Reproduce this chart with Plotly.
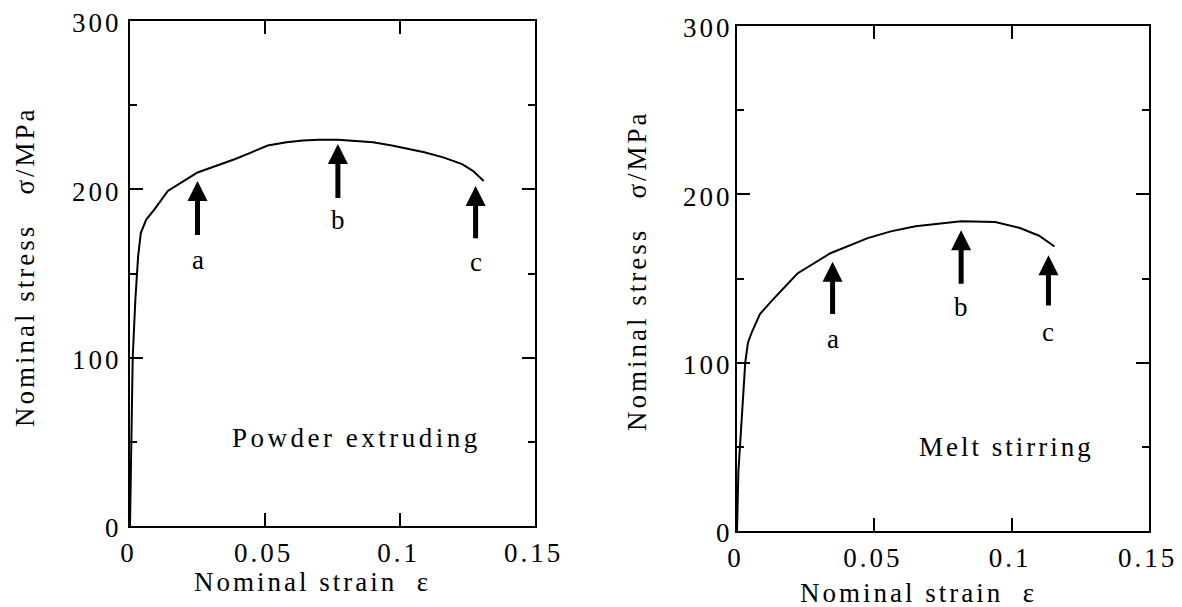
import plotly.graph_objects as go

# ---- data ----
powder_strain = [0, 0.001, 0.002, 0.003, 0.004, 0.006, 0.009, 0.014, 0.020, 0.025, 0.032, 0.039,
                 0.045, 0.051, 0.058, 0.064, 0.070, 0.077, 0.081, 0.090, 0.097, 0.103, 0.109,
                 0.116, 0.123, 0.127, 0.131]
powder_stress = [0, 100, 135, 160, 174, 182, 188, 199, 205, 210, 214, 218,
                 222, 226, 228, 229, 229.5, 229.5, 229, 228, 226, 224, 222,
                 219, 215, 211, 205]

melt_strain = [0, 0.0005, 0.003, 0.004, 0.0055, 0.0084, 0.0128, 0.022, 0.034, 0.0476, 0.056,
               0.065, 0.0816, 0.094, 0.103, 0.110, 0.1156]
melt_stress = [0, 35, 100, 112, 118.5, 129, 137, 153, 165, 174, 178,
               181, 184, 183.5, 180, 175.4, 169]

arrow_labels = ["a", "b", "c"]
powder_arrow_x = [0.025, 0.077, 0.128]
powder_arrow_tip = [205, 227, 202]
powder_arrow_tail = [172, 194, 170]
powder_label_y = [158, 182, 157]

melt_arrow_x = [0.0348, 0.0816, 0.1134]
melt_arrow_tip = [160, 178.6, 163.8]
melt_arrow_tail = [128, 146, 133]
melt_label_y = [114, 133, 118]

x_tickvals = [0, 0.05, 0.1, 0.15]
x_ticktext = ["0", "0.05", "0.1", "0.15"]
y_tickvals = [0, 100, 200, 300]
y_ticktext = ["0", "100", "200", "300"]

FONT = "Liberation Serif"

# the page body has an 8px margin: the figure starts 8px in and ends at the window edge
PAD = 8
W, H = 1182 - PAD, 607 - PAD


def fx(px):
    return (px - PAD) / W


def fy(py):
    return 1 - (py - PAD) / H


def sp(t, ls=3):
    # spaced-out lettering like the original typeset figure (no trailing space)
    if len(t) <= 1:
        return t
    return f'<span style="letter-spacing:{ls}px">{t[:-1]}</span>{t[-1]}'


fig = go.Figure()
fig.add_trace(go.Scatter(x=powder_strain, y=powder_stress, mode="lines",
                         line=dict(color="black", width=2), xaxis="x", yaxis="y",
                         showlegend=False, hoverinfo="skip"))
fig.add_trace(go.Scatter(x=melt_strain, y=melt_stress, mode="lines",
                         line=dict(color="black", width=2), xaxis="x2", yaxis="y2",
                         showlegend=False, hoverinfo="skip"))

common_x = dict(range=[0, 0.15], tickvals=x_tickvals, ticktext=[sp(t) for t in x_ticktext],
                ticks="inside", ticklen=13, tickwidth=2, tickcolor="black",
                showline=True, linewidth=2, linecolor="black", mirror="allticks",
                showgrid=False, zeroline=False, automargin=False,
                ticklabeloverflow="allow", ticklabelstandoff=2, ticklabelshift=-3,
                tickfont=dict(family=FONT, size=27, color="black"))
common_y = dict(range=[0, 300], tickvals=y_tickvals, ticktext=[sp(t) for t in y_ticktext],
                ticks="inside", ticklen=13, tickwidth=2, tickcolor="black",
                showline=True, linewidth=2, linecolor="black", mirror="allticks",
                showgrid=False, zeroline=False, automargin=False,
                ticklabeloverflow="allow", ticklabelshift=2,
                minor=dict(tickvals=[50, 150, 250], ticks="inside", ticklen=7,
                           tickwidth=2, tickcolor="black"),
                tickfont=dict(family=FONT, size=27, color="black"))

fig.update_layout(
    width=W, height=H,
    margin=dict(l=0, r=0, t=0, b=0, autoexpand=False),
    paper_bgcolor="white", plot_bgcolor="white",
    xaxis=dict(domain=[fx(130), fx(535)], anchor="y", **common_x),
    yaxis=dict(domain=[fy(526), fy(21)], anchor="x", ticklabelstandoff=4, **common_y),
    xaxis2=dict(domain=[fx(737), fx(1149)], anchor="y2", **common_x),
    yaxis2=dict(domain=[fy(531), fy(26)], anchor="x2", ticklabelstandoff=0, **common_y),
)

ann = []
tfont = dict(family=FONT, size=27, color="black")
for xr, yr, xs, tips, tails, ly in [("x", "y", powder_arrow_x, powder_arrow_tip, powder_arrow_tail, powder_label_y),
                                    ("x2", "y2", melt_arrow_x, melt_arrow_tip, melt_arrow_tail, melt_label_y)]:
    for lab, xv, tp, tl, lv in zip(arrow_labels, xs, tips, tails, ly):
        ann.append(dict(x=xv, y=tp, ax=xv, ay=tl, xref=xr, yref=yr, axref=xr, ayref=yr,
                        text="", showarrow=True, arrowhead=2, arrowsize=0.8, arrowwidth=5,
                        arrowcolor="black"))
        ann.append(dict(x=xv, y=lv, xref=xr, yref=yr, text=lab, showarrow=False,
                        xanchor="center", yanchor="middle", font=tfont))

ann.append(dict(x=0.083, y=52, xref="x", yref="y", text=sp("Powder extruding", 3.5),
                showarrow=False, xanchor="center", yanchor="middle", font=tfont))
ann.append(dict(x=0.0977, y=50, xref="x2", yref="y2", text=sp("Melt stirring"),
                showarrow=False, xanchor="center", yanchor="middle", font=tfont))

ytitle = sp("Nominal stress\u00a0\u00a0\u00a0σ/MPa")
xtitle = sp("Nominal strain\u00a0\u00a0ε")
for xp, yp, txt, ang in [(25, 268, ytitle, -90), (637, 272, ytitle, -90),
                         (311, 582, xtitle, 0), (917, 593, xtitle, 0)]:
    ann.append(dict(x=fx(xp), y=fy(yp), xref="paper", yref="paper", text=txt,
                    textangle=ang, showarrow=False, xanchor="center", yanchor="middle",
                    font=tfont))

fig.update_layout(annotations=ann)
fig.write_html("out.html")
